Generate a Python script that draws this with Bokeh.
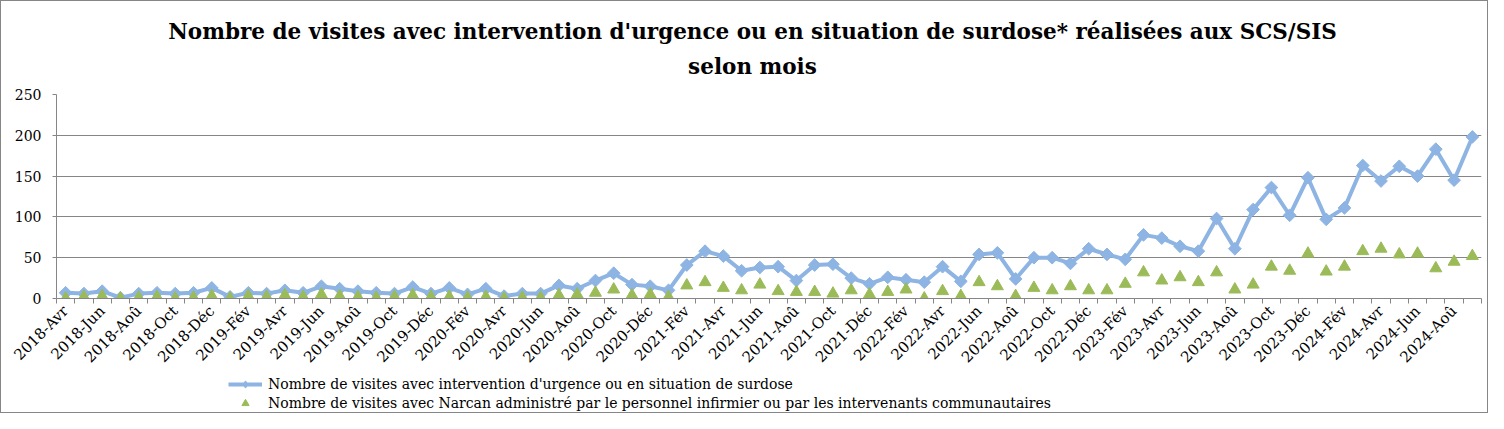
import math
from bokeh.plotting import figure
from bokeh.layouts import column
from bokeh.models import FixedTicker, Legend, LegendItem, Label, Range1d, ColumnDataSource
from bokeh.embed import file_html
from bokeh.resources import INLINE

mois_fr = ["Jan", "Fév", "Mar", "Avr", "Mai", "Jun", "Jul", "Aoû", "Sep", "Oct", "Nov", "Déc"]
annees = [2018, 2019, 2020, 2021, 2022, 2023, 2024]

urgences = [7, 6, 9, 1, 6, 7, 6, 7, 13, 2, 7, 6, 10, 7, 15, 12, 9, 7,
            6, 14, 6, 13, 5, 12, 3, 6, 6, 16, 12, 22, 31, 17, 15, 10, 41, 58, 52, 34,
            38, 39, 22, 41, 42, 25, 18, 26, 23, 20, 39, 21, 54, 56, 24, 50, 50, 43, 61, 54,
            48, 78, 74, 64, 58, 98, 61, 109, 136, 102, 148, 97, 111, 163, 144, 162, 150, 183, 145, 198]

narcan = [0, 2, 3, 0, 1, 2, 0, 1, 3, 0, 3, 2, 4, 2, 5, 3, 2, 1,
          2, 4, 2, 2, 1, 2, 0, 1, 1, 4, 5, 7, 11, 4, 5, 2, 16, 20, 13, 10,
          17, 9, 8, 8, 6, 10, 5, 8, 11, 0, 9, 3, 20, 15, 3, 13, 10, 15, 10, 10,
          18, 32, 22, 26, 20, 32, 11, 17, 39, 34, 55, 33, 39, 58, 61, 54, 55, 37, 45, 52]

# month labels: 2018-Avr ... 2024-Sep
labels = []
for a in annees:
    for m in mois_fr:
        labels.append(f"{a}-{m}")
labels = labels[3:3 + len(urgences)]

titre1 = "Nombre de visites avec intervention d'urgence ou en situation de surdose* réalisées aux SCS/SIS"
titre2 = "selon mois"
leg1 = "Nombre de visites avec intervention d'urgence ou en situation de surdose"
leg2 = "Nombre de visites avec Narcan administré par le personnel infirmier ou par les intervenants communautaires"

idx = list(range(len(urgences)))
src = ColumnDataSource(dict(x=idx, u=urgences, n=narcan, lab=labels))

FONT = "DejaVu Serif"
GRID = "#868686"
BLUE = "#8DB4E3"
GREEN = "#9BBB59"
W = 1486
BL, BR = 55, 6          # left / right borders shared by all rows (frames are aligned)
FW = W - BL - BR        # frame width in px
H_HEAD = 85
H_MAIN = 289
H_LEG = 37


def strip(h, yr):
    f = figure(width=W, height=h, output_backend="svg", toolbar_location=None,
               x_range=Range1d(0, FW), y_range=yr,
               x_axis_location=None, y_axis_location=None,
               min_border_left=BL, min_border_right=BR, min_border_top=0, min_border_bottom=0)
    f.outline_line_color = None
    f.grid.grid_line_color = None
    return f


# ---- header with the two title lines (x in px from the frame's left edge)
head = strip(H_HEAD, Range1d(0, H_HEAD))
head.add_layout(Label(x=696, y=H_HEAD - 30, text=titre1, text_align="center", text_baseline="middle",
                      text_font=FONT, text_font_size="21.5px", text_font_style="bold", text_color="black"))
head.add_layout(Label(x=696, y=H_HEAD - 65, text=titre2, text_align="center", text_baseline="middle",
                      text_font=FONT, text_font_size="21.5px", text_font_style="bold", text_color="black"))

# ---- main chart
p = figure(width=W, height=H_MAIN, output_backend="svg", toolbar_location=None,
           x_range=Range1d(-0.5, len(urgences) - 0.5), y_range=Range1d(0, 250),
           min_border_left=BL, min_border_right=BR, min_border_top=8, min_border_bottom=76,
           title=None)
p.outline_line_color = None
p.background_fill_color = "white"
p.border_fill_color = "white"

p.yaxis.ticker = FixedTicker(ticks=[0, 50, 100, 150, 200, 250])
p.yaxis.axis_line_color = GRID
p.yaxis.major_tick_line_color = GRID
p.yaxis.major_tick_out = 4
p.yaxis.major_tick_in = 0
p.yaxis.minor_tick_line_color = None
p.yaxis.major_label_text_font = FONT
p.yaxis.major_label_text_font_size = "14px"
p.yaxis.major_label_text_color = "black"
p.yaxis.major_label_standoff = 11
p.ygrid.grid_line_color = GRID
p.ygrid.grid_line_width = 1

even = [i for i in idx if i % 2 == 0]
p.xaxis.ticker = FixedTicker(ticks=even, minor_ticks=[i - 0.5 for i in idx] + [len(idx) - 0.5])
p.xaxis.major_label_overrides = {i: labels[i] for i in even}
p.xaxis.major_label_orientation = math.pi / 4
p.xaxis.axis_line_color = GRID
p.xaxis.major_tick_line_color = None
p.xaxis.minor_tick_line_color = GRID
p.xaxis.minor_tick_out = 5
p.xaxis.minor_tick_in = 0
p.xaxis.major_label_text_font = FONT
p.xaxis.major_label_text_font_size = "15px"
p.xaxis.major_label_text_color = "black"
p.xaxis.major_label_standoff = 4
p.xgrid.grid_line_color = None

ln = p.line("x", "u", source=src, line_color=BLUE, line_width=4)
dm = p.scatter("x", "u", source=src, marker="square", angle=math.pi / 4, size=9,
               fill_color=BLUE, line_color=BLUE)
tr = p.scatter("x", "n", source=src, marker="triangle", size=12, fill_color=GREEN, line_color=GREEN)

# ---- legend strip: same glyph styles, same data, kept out of view
q = figure(width=W, height=H_LEG, output_backend="svg", toolbar_location=None,
           x_range=Range1d(-0.5, len(urgences) - 0.5), y_range=Range1d(-2000, -1000),
           x_axis_location=None, y_axis_location=None,
           min_border_left=BL, min_border_right=BR, min_border_top=0, min_border_bottom=0)
q.outline_line_color = None
q.grid.grid_line_color = None
ln2 = q.line("x", "u", source=src, line_color=BLUE, line_width=4)
dm2 = q.scatter("x", "u", source=src, marker="diamond", size=18,
                fill_color=BLUE, line_color=BLUE)
tr2 = q.scatter("x", "n", source=src, marker="triangle", size=12, fill_color=GREEN, line_color=GREEN)

legend = Legend(items=[LegendItem(label=leg1, renderers=[ln2, dm2]),
                       LegendItem(label=leg2, renderers=[tr2])],
                location=(172, 0), orientation="vertical",
                label_text_font=FONT, label_text_font_size="14px", label_text_color="black",
                glyph_width=34, glyph_height=18, label_height=18, label_standoff=6, spacing=1,
                padding=0, margin=0, border_line_color=None, background_fill_alpha=0)
q.add_layout(legend, "center")

layout = column(head, p, q, spacing=0)
layout.styles = {"border": "1px solid #868686"}

open("out.html", "w").write(file_html(layout, INLINE))
